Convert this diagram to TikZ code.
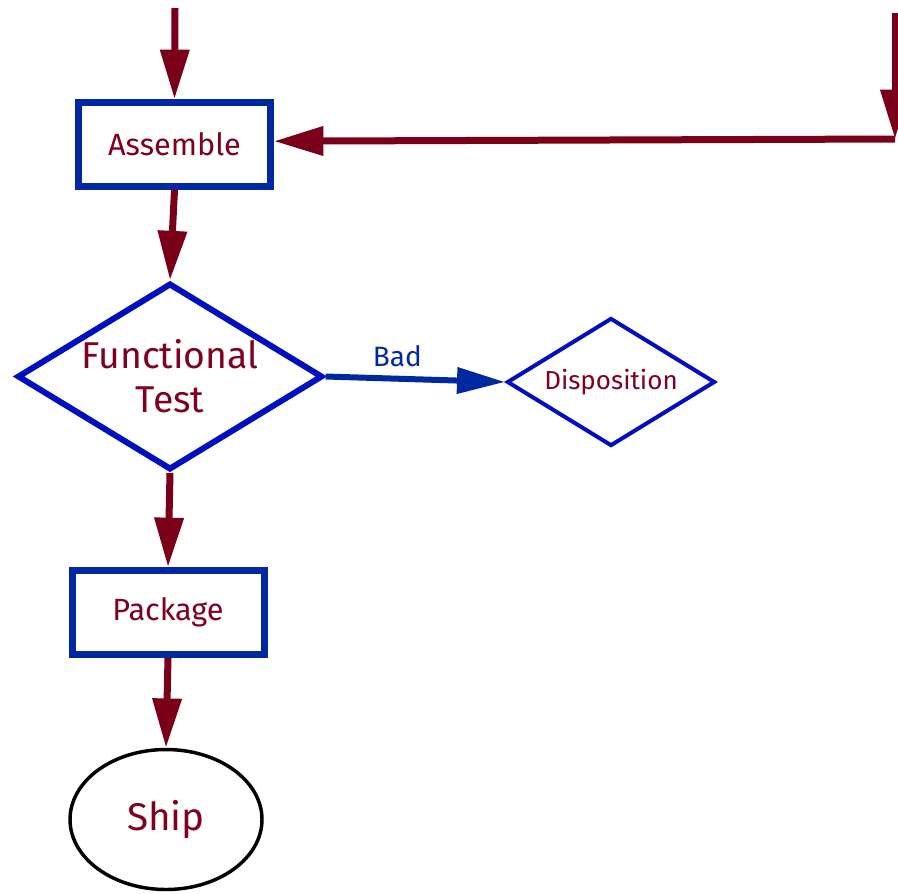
\documentclass[tikz,border=0pt]{standalone}
\usepackage{fontspec}
\setmainfont{Fira Sans}
\usetikzlibrary{arrows.meta,shapes.geometric}
\definecolor{flowred}{RGB}{122,0,26}
\definecolor{labelred}{RGB}{128,0,32}
\definecolor{boxblue}{RGB}{0,40,160}
\definecolor{decblue}{RGB}{0,16,190}
\tikzset{
    flow/.style={-{Triangle[length=37pt,width=21pt]},line width=5.25pt,flowred},
    badflow/.style={-{Triangle[length=36pt,width=19pt]},line width=4.5pt,boxblue},
    stepbox/.style={rectangle,draw=boxblue,line width=5.25pt,minimum width=144pt,minimum height=63pt,text=labelred,font=\fontsize{23}{27}\selectfont},
    testdia/.style={diamond,aspect=1.6,draw=decblue,line width=4.5pt,inner sep=0pt,minimum width=229pt,minimum height=140pt,text=labelred,align=center,font=\fontsize{28}{33}\selectfont},
    dispdia/.style={diamond,aspect=1.6,draw=decblue,line width=3pt,inner sep=0pt,minimum width=156pt,minimum height=96pt,text=labelred,font=\fontsize{19.5}{23}\selectfont},
    endoval/.style={ellipse,draw=black,line width=2.6pt,minimum width=144pt,minimum height=105pt,text=labelred,font=\fontsize{29}{35}\selectfont},
    badlabel/.style={text=boxblue,font=\fontsize{21}{25}\selectfont}
}

\begin{document}
\begin{tikzpicture}[x=0.75pt,y=-0.75pt]
    \clip (0,0) rectangle (898,893);
    \useasboundingbox (0,0) rectangle (898,893);
    % Process steps
    \node[stepbox] (asm) at (174.5,144.5) {Assemble};
    \node[testdia] (ftest) at (170,376.5) {Functional\\Test};
    \node[dispdia] (disp) at (611,382) {Disposition};
    \node[stepbox] (pkg) at (168,612.5) {Package};
    \node[endoval] (ship) at (166,819.5) {Ship};
    % Incoming lines
    \coordinate (intop) at (175,8);
    \coordinate (rework) at (895,13);
    \coordinate (reworkturn) at (895,139);
    \draw[flow] (intop) -- (asm.north);
    \draw[flow] (rework) -- (reworkturn);
    \draw[flow] (reworkturn) -- ([yshift=2.5pt]asm.east);
    % Main flow
    \draw[flow] (asm.south) -- (ftest.north);
    \draw[flow] (ftest.south) -- (pkg.north);
    \draw[flow] (pkg.south) -- (ship.north);
    % Failed units
    \draw[badflow] (ftest.east) -- (disp.west) node[badlabel,pos=0.4,above=3pt] {Bad};
\end{tikzpicture}
\end{document}
